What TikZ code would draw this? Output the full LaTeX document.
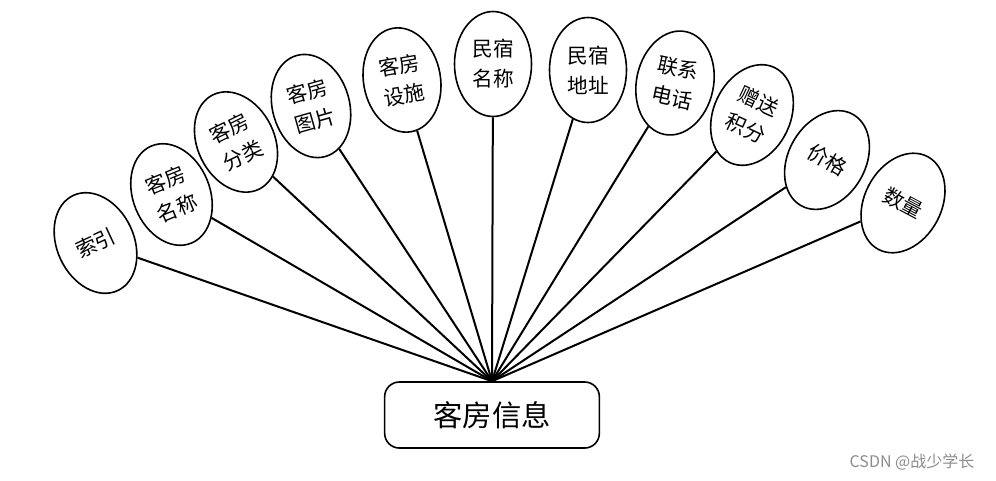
\documentclass[tikz,border=0pt]{standalone}
\usepackage{fontspec}
\newfontfamily\cjk{Noto Sans CJK SC}
\usetikzlibrary{shapes.geometric}

\begin{document}
\begin{tikzpicture}[x=0.75pt, y=-0.75pt, attr/.style={draw, ellipse, line width=1.2pt, inner sep=0pt, minimum width=57.75pt, minimum height=78.75pt, align=center, font=\cjk\fontsize{15.5}{22.5}\selectfont}, entity/.style={draw, rounded corners=11pt, line width=1.2pt, minimum width=161pt, minimum height=49.5pt, font=\cjk\fontsize{22}{26}\selectfont}, link/.style={line width=1.5pt}]
\useasboundingbox (0,0) rectangle (996,480);

\node[entity] (info) at (492,415) {客房信息};
\coordinate (hub) at (info.north);

\node[attr, rotate=25] (idx) at (95.5,243) {索引};
\node[attr, rotate=22] (rname) at (171.5,194.5) {客房\\名称};
\node[attr, rotate=26] (rtype) at (236,142) {客房\\分类};
\node[attr, rotate=16] (rpic) at (311,106) {客房\\图片};
\node[attr, rotate=10] (rfac) at (402,80) {客房\\设施};
\node[attr] (hname) at (493,64) {民宿\\名称};
\node[attr] (haddr) at (588,70) {民宿\\地址};
\node[attr, rotate=-12] (phone) at (675,83) {联系\\电话};
\node[attr, rotate=-25] (bonus) at (752,115) {赠送\\积分};
\node[attr, rotate=-30] (price) at (827,160) {价格};
\node[attr, rotate=-28] (qty) at (903,203) {数量};

\draw[link] (hub)--(idx); \draw[link] (hub)--(rname); \draw[link] (hub)--(rtype);
\draw[link] (hub)--(rpic); \draw[link] (hub)--(rfac); \draw[link] (hub)--(hname);
\draw[link] (hub)--(haddr); \draw[link] (hub)--(phone); \draw[link] (hub)--(bonus);
\draw[link] (hub)--(price); \draw[link] (hub)--(qty);

\node[text=black!45, font=\cjk\fontsize{12}{14}\selectfont] (mark) at (912,462) {CSDN @战少学长};

\end{tikzpicture}
\end{document}
